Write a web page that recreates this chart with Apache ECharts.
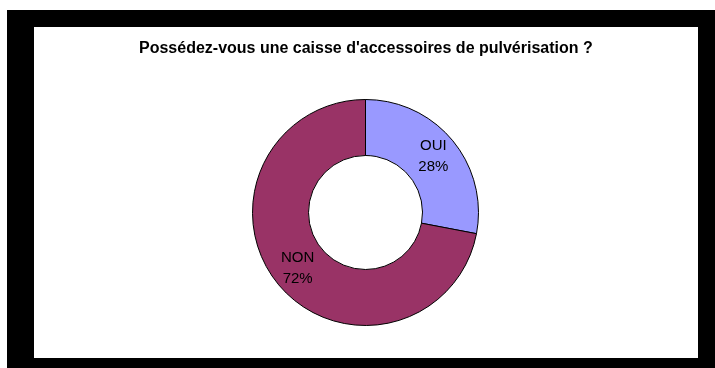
<!DOCTYPE html>
<html>
<head>
<meta charset="utf-8">
<script src="https://cdn.jsdelivr.net/npm/echarts@6/dist/echarts.min.js"></script>
<style>
  html, body { margin: 0; padding: 0; background: #fff; }
  #chart { width: 715px; height: 368px; }
</style>
</head>
<body>
<div id="chart"></div>
<script>
var categories = ['OUI', 'NON'];
var values = [28, 72];
var colors = ['#9999FF', '#993366'];

var chartDom = document.getElementById('chart');
var myChart = echarts.init(chartDom);

var option = {
    backgroundColor: '#ffffff',
    animation: false,
    title: {
        text: "Possédez-vous une caisse d'accessoires de pulvérisation ?",
        left: 134,
        top: 36,
        textStyle: {
            fontFamily: 'Liberation Sans, Arial, sans-serif',
            fontSize: 16,
            fontWeight: 'bold',
            color: '#000'
        }
    },
    graphic: [
        {
            type: 'rect',
            z: -10,
            shape: { x: 7, y: 10, width: 708, height: 358 },
            style: { fill: '#000' }
        },
        {
            type: 'rect',
            z: -9,
            shape: { x: 34, y: 27, width: 664, height: 331 },
            style: { fill: '#fff' }
        }
    ],
    series: [
        {
            type: 'pie',
            center: [365.5, 212.5],
            radius: [57, 113],
            startAngle: 90,
            clockwise: true,
            label: {
                position: 'inside',
                formatter: '{b}\n{d}%',
                fontFamily: 'Liberation Sans, Arial, sans-serif',
                fontSize: 15,
                color: '#000',
                lineHeight: 21
            },
            itemStyle: {
                borderColor: '#000',
                borderWidth: 1
            },
            emphasis: { disabled: true },
            data: categories.map(function (name, i) {
                return { name: name, value: values[i], itemStyle: { color: colors[i] } };
            })
        }
    ]
};

myChart.setOption(option);
</script>
</body>
</html>
